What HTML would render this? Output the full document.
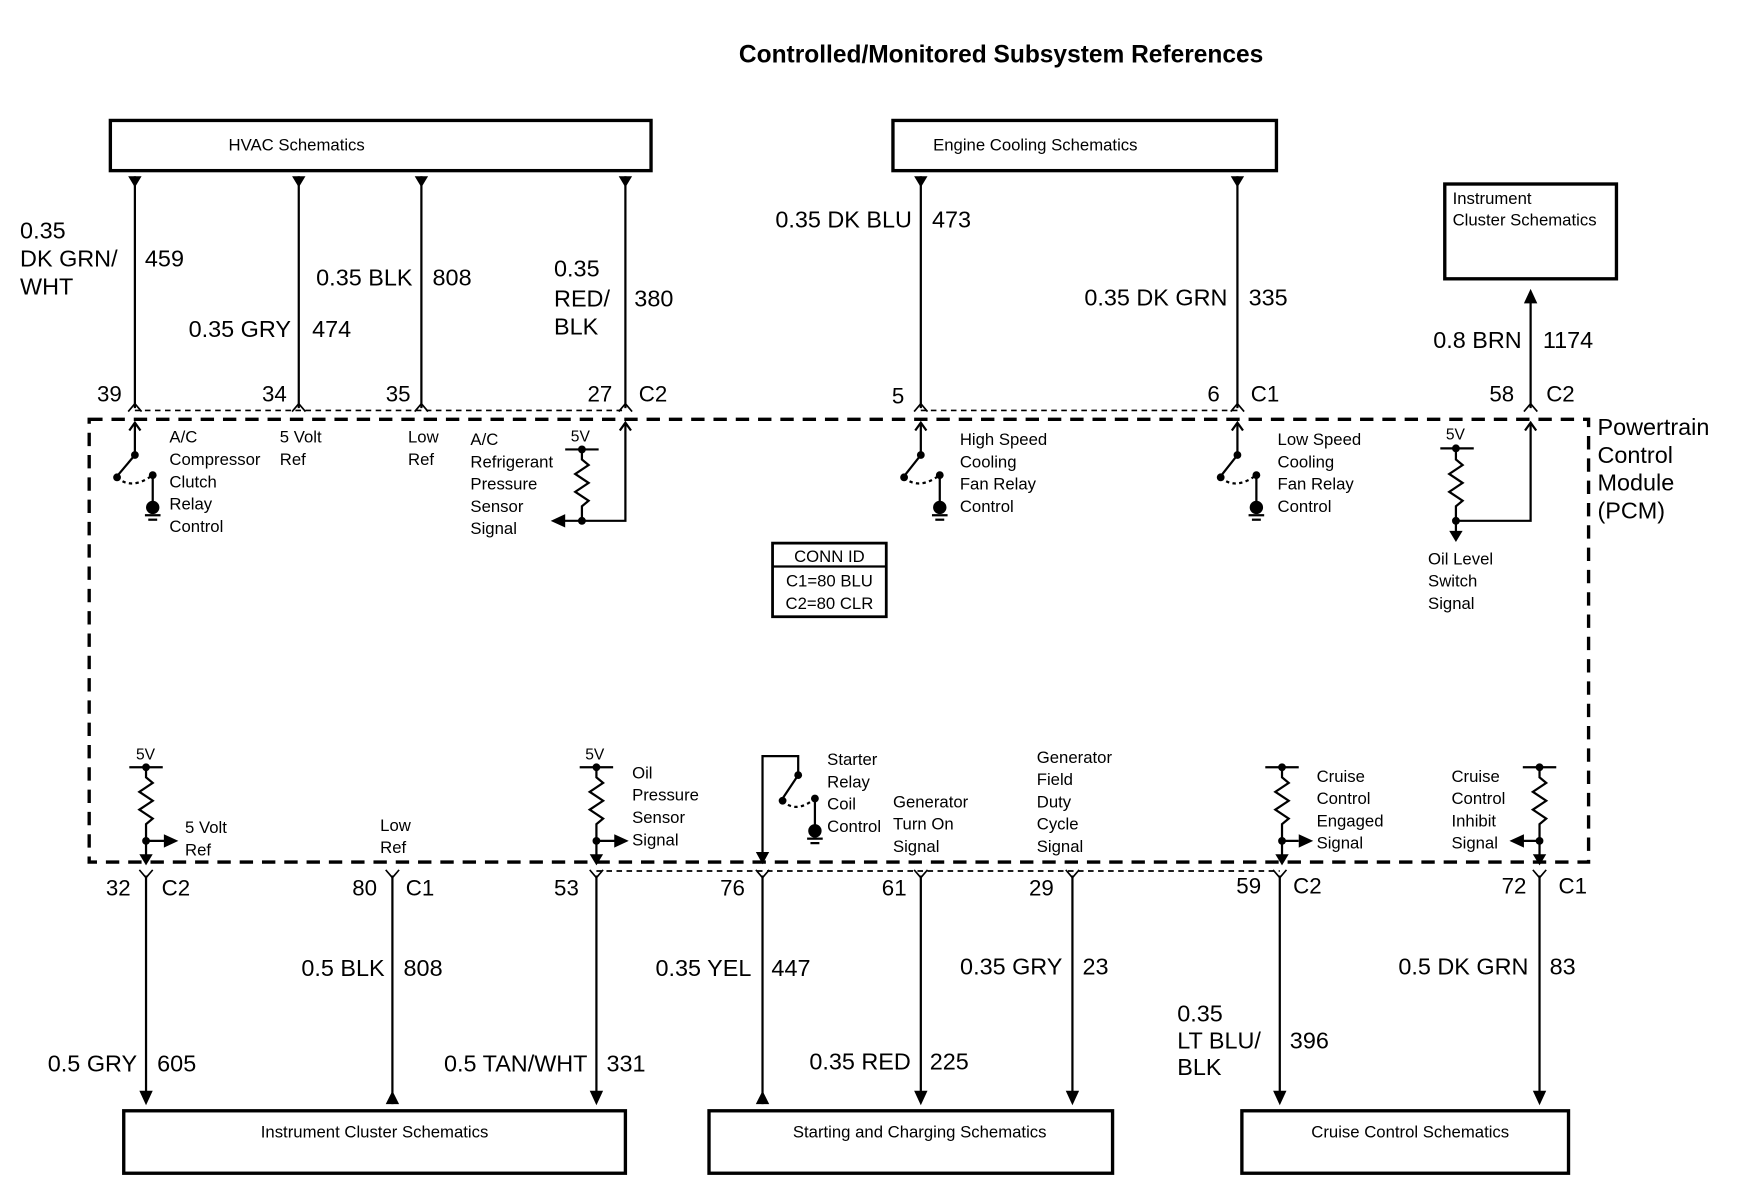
<!DOCTYPE html>
<html><head><meta charset="utf-8"><style>
html,body{margin:0;padding:0;background:#fff;}
svg{display:block;}
text{font-family:"Liberation Sans",sans-serif;fill:#000;}
.w{font-size:21px;}
.s{font-size:15px;}
.p{font-size:20px;}
</style></head><body>
<svg width="1748" height="1200" viewBox="0 0 1568 1076" preserveAspectRatio="none" xmlns="http://www.w3.org/2000/svg">
<g stroke="#000" fill="none">
<rect x="99" y="108" width="485" height="45" stroke-width="3"/>
<rect x="801" y="108" width="344" height="45" stroke-width="3"/>
<rect x="1296" y="165" width="154" height="85" stroke-width="3"/>
<rect x="111" y="996" width="450" height="56" stroke-width="3"/>
<rect x="636" y="996" width="362" height="56" stroke-width="3"/>
<rect x="1114" y="996" width="293" height="56" stroke-width="3"/>
<rect x="80" y="376" width="1345" height="397" stroke-width="3" stroke-dasharray="12,8"/>
<g stroke-width="2">
<line x1="121" y1="158" x2="121" y2="366"/>
<line x1="268" y1="158" x2="268" y2="366"/>
<line x1="378" y1="158" x2="378" y2="366"/>
<line x1="561" y1="158" x2="561" y2="366"/>
<line x1="826" y1="158" x2="826" y2="366"/>
<line x1="1110" y1="158" x2="1110" y2="366"/>
<line x1="1373" y1="268" x2="1373" y2="366"/>
<line x1="131" y1="785" x2="131" y2="982"/>
<line x1="352" y1="785" x2="352" y2="990"/>
<line x1="535" y1="785" x2="535" y2="982"/>
<line x1="684" y1="785" x2="684" y2="990"/>
<line x1="826" y1="785" x2="826" y2="982"/>
<line x1="962" y1="785" x2="962" y2="982"/>
<line x1="1148" y1="785" x2="1148" y2="982"/>
<line x1="1381" y1="785" x2="1381" y2="982"/>
</g>
<g stroke-width="1.5" stroke-dasharray="5,4">
<line x1="121" y1="368" x2="561" y2="368"/>
<line x1="826" y1="368" x2="1110" y2="368"/>
<line x1="535" y1="781" x2="1148" y2="781"/>
</g>
<g stroke-width="1.5">
<path d="M115,369 L121,362 L127,369"/><path d="M262,369 L268,362 L274,369"/><path d="M372,369 L378,362 L384,369"/><path d="M555,369 L561,362 L567,369"/>
<path d="M820,369 L826,362 L832,369"/><path d="M1104,369 L1110,362 L1116,369"/><path d="M1367,369 L1373,362 L1379,369"/>
<path d="M125,780 L131,787 L137,780"/><path d="M346,780 L352,787 L358,780"/><path d="M529,780 L535,787 L541,780"/><path d="M678,780 L684,787 L690,780"/>
<path d="M820,780 L826,787 L832,780"/><path d="M956,780 L962,787 L968,780"/><path d="M1142,780 L1148,787 L1154,780"/><path d="M1375,780 L1381,787 L1387,780"/>
</g>
</g>
<g fill="#000">
<path d="M115,158 L127,158 L121,168 Z"/><path d="M262,158 L274,158 L268,168 Z"/><path d="M372,158 L384,158 L378,168 Z"/><path d="M555,158 L567,158 L561,168 Z"/>
<path d="M820,158 L832,158 L826,168 Z"/><path d="M1104,158 L1116,158 L1110,168 Z"/>
<path d="M1367,272 L1379,272 L1373,259 Z"/>
<path d="M125,978 L137,978 L131,991 Z"/><path d="M529,978 L541,978 L535,991 Z"/><path d="M820,978 L832,978 L826,991 Z"/><path d="M956,978 L968,978 L962,991 Z"/><path d="M1142,978 L1154,978 L1148,991 Z"/><path d="M1375,978 L1387,978 L1381,991 Z"/>
<path d="M346,990 L358,990 L352,978 Z"/><path d="M678,990 L690,990 L684,978 Z"/>
</g>
<g stroke="#000" fill="none" stroke-width="2">
<path d="M121,380 L121,408 L105,427"/><path d="M116,386 L121,379 L126,386"/>
<path d="M105,428 Q118,440 137,426" stroke-dasharray="3,3"/><line x1="137" y1="426" x2="137" y2="452"/>
<line x1="130" y1="462" x2="144" y2="462"/><line x1="133" y1="466" x2="141" y2="466"/>
<path d="M826,380 L826,408 L811,427"/><path d="M821,386 L826,379 L831,386"/>
<path d="M811,428 Q824,440 843,426" stroke-dasharray="3,3"/><line x1="843" y1="426" x2="843" y2="452"/>
<line x1="836" y1="462" x2="850" y2="462"/><line x1="839" y1="466" x2="847" y2="466"/>
<path d="M1110,380 L1110,408 L1095,427"/><path d="M1105,386 L1110,379 L1115,386"/>
<path d="M1095,428 Q1108,440 1127,426" stroke-dasharray="3,3"/><line x1="1127" y1="426" x2="1127" y2="452"/>
<line x1="1120" y1="462" x2="1134" y2="462"/><line x1="1123" y1="466" x2="1131" y2="466"/>
<line x1="507" y1="403" x2="537" y2="403"/>
<path d="M522,403 L522,412 l6,5 l-12,8 l12,8 l-12,8 l12,8 l-6,5 L522,467"/>
<path d="M506,467 L561,467 L561,380"/><path d="M556,386 L561,379 L566,386"/>
<line x1="1292" y1="402" x2="1322" y2="402"/>
<path d="M1306,402 L1306,412 l6,5 l-12,8 l12,8 l-12,8 l12,8 l-6,5 L1306,467 L1373,467 L1373,380"/><path d="M1368,386 L1373,379 L1378,386"/>
<line x1="1306" y1="467" x2="1306" y2="478"/>
<line x1="116" y1="688" x2="146" y2="688"/>
<path d="M131,688 L131,697 l6,5 l-12,8 l12,8 l-12,8 l12,8 l-6,5 L131,770"/>
<line x1="131" y1="754" x2="148" y2="754"/>
<line x1="520" y1="688" x2="550" y2="688"/>
<path d="M535,688 L535,697 l6,5 l-12,8 l12,8 l-12,8 l12,8 l-6,5 L535,770"/>
<line x1="535" y1="754" x2="552" y2="754"/>
<path d="M684,770 L684,678 L716,678 L716,695 L702,716"/>
<path d="M702,718 Q714,730 731,716" stroke-dasharray="3,3"/><line x1="731" y1="716" x2="731" y2="742"/>
<line x1="724" y1="752" x2="738" y2="752"/><line x1="727" y1="756" x2="735" y2="756"/>
<line x1="1135" y1="688" x2="1165" y2="688"/>
<path d="M1150,688 L1150,697 l6,5 l-12,8 l12,8 l-12,8 l12,8 l-6,5 L1150,770"/>
<line x1="1150" y1="754" x2="1165" y2="754"/>
<line x1="1366" y1="688" x2="1396" y2="688"/>
<path d="M1381,688 L1381,697 l6,5 l-12,8 l12,8 l-12,8 l12,8 l-6,5 L1381,770"/>
<line x1="1365" y1="754" x2="1381" y2="754"/>
<rect x="693" y="487" width="102" height="66" stroke-width="2.5"/>
<line x1="693" y1="508" x2="795" y2="508" stroke-width="2"/>
</g>
<g fill="#000">
<circle cx="121" cy="408" r="3.5"/><circle cx="105" cy="428" r="3.5"/><circle cx="137" cy="426" r="3.5"/><circle cx="137" cy="455" r="6"/>
<circle cx="826" cy="408" r="3.5"/><circle cx="811" cy="428" r="3.5"/><circle cx="843" cy="426" r="3.5"/><circle cx="843" cy="455" r="6"/>
<circle cx="1110" cy="408" r="3.5"/><circle cx="1095" cy="428" r="3.5"/><circle cx="1127" cy="426" r="3.5"/><circle cx="1127" cy="455" r="6"/>
<circle cx="522" cy="403" r="3.5"/><circle cx="522" cy="467" r="3.5"/><path d="M494,467 L507,461 L507,473 Z"/>
<circle cx="1306" cy="402" r="3.5"/><circle cx="1306" cy="467" r="3.5"/><path d="M1300,476 L1312,476 L1306,486 Z"/>
<circle cx="131" cy="688" r="3.5"/><circle cx="131" cy="754" r="3.5"/><path d="M160,754 L147,748 L147,760 Z"/><path d="M125,766 L137,766 L131,776 Z"/>
<circle cx="535" cy="688" r="3.5"/><circle cx="535" cy="754" r="3.5"/><path d="M564,754 L551,748 L551,760 Z"/><path d="M529,766 L541,766 L535,776 Z"/>
<circle cx="716" cy="695" r="3.5"/><circle cx="702" cy="718" r="3.5"/><circle cx="731" cy="716" r="3.5"/><circle cx="731" cy="745" r="6"/><path d="M678,764 L690,764 L684,775 Z"/>
<circle cx="1150" cy="688" r="3.5"/><circle cx="1150" cy="754" r="3.5"/><path d="M1178,754 L1165,748 L1165,760 Z"/><path d="M1144,766 L1156,766 L1150,776 Z"/>
<circle cx="1381" cy="688" r="3.5"/><circle cx="1381" cy="754" r="3.5"/><path d="M1354,754 L1367,748 L1367,760 Z"/><path d="M1375,766 L1387,766 L1381,776 Z"/>
</g>
<text x="898" y="56" text-anchor="middle" font-size="22" font-weight="bold">Controlled/Monitored Subsystem References</text>
<g class="s">
<text x="205" y="135">HVAC Schematics</text>
<text x="837" y="135">Engine Cooling Schematics</text>
<text x="1303" y="183">Instrument</text><text x="1303" y="202">Cluster Schematics</text>
<text x="336" y="1020" text-anchor="middle">Instrument Cluster Schematics</text>
<text x="825" y="1020" text-anchor="middle">Starting and Charging Schematics</text>
<text x="1265" y="1020" text-anchor="middle">Cruise Control Schematics</text>
<text x="152" y="397">A/C</text><text x="152" y="417">Compressor</text><text x="152" y="437">Clutch</text><text x="152" y="457">Relay</text><text x="152" y="477">Control</text>
<text x="251" y="397">5 Volt</text><text x="251" y="417">Ref</text>
<text x="366" y="397">Low</text><text x="366" y="417">Ref</text>
<text x="422" y="399">A/C</text><text x="422" y="419">Refrigerant</text><text x="422" y="439">Pressure</text><text x="422" y="459">Sensor</text><text x="422" y="479">Signal</text>
<text x="512" y="396" font-size="14">5V</text>
<text x="861" y="399">High Speed</text><text x="861" y="419">Cooling</text><text x="861" y="439">Fan Relay</text><text x="861" y="459">Control</text>
<text x="1146" y="399">Low Speed</text><text x="1146" y="419">Cooling</text><text x="1146" y="439">Fan Relay</text><text x="1146" y="459">Control</text>
<text x="1297" y="394" font-size="14">5V</text>
<text x="1281" y="506">Oil Level</text><text x="1281" y="526">Switch</text><text x="1281" y="546">Signal</text>
<text x="744" y="504" text-anchor="middle">CONN ID</text><text x="744" y="526" text-anchor="middle">C1=80 BLU</text><text x="744" y="546" text-anchor="middle">C2=80 CLR</text>
<text x="122" y="681" font-size="14">5V</text>
<text x="166" y="747">5 Volt</text><text x="166" y="767">Ref</text>
<text x="341" y="745">Low</text><text x="341" y="765">Ref</text>
<text x="525" y="681" font-size="14">5V</text>
<text x="567" y="698">Oil</text><text x="567" y="718">Pressure</text><text x="567" y="738">Sensor</text><text x="567" y="758">Signal</text>
<text x="742" y="686">Starter</text><text x="742" y="706">Relay</text><text x="742" y="726">Coil</text><text x="742" y="746">Control</text>
<text x="801" y="724">Generator</text><text x="801" y="744">Turn On</text><text x="801" y="764">Signal</text>
<text x="930" y="684">Generator</text><text x="930" y="704">Field</text><text x="930" y="724">Duty</text><text x="930" y="744">Cycle</text><text x="930" y="764">Signal</text>
<text x="1181" y="701">Cruise</text><text x="1181" y="721">Control</text><text x="1181" y="741">Engaged</text><text x="1181" y="761">Signal</text>
<text x="1302" y="701">Cruise</text><text x="1302" y="721">Control</text><text x="1302" y="741">Inhibit</text><text x="1302" y="761">Signal</text>
</g>
<g font-size="21">
<text x="1433" y="390">Powertrain</text><text x="1433" y="415">Control</text><text x="1433" y="440">Module</text><text x="1433" y="465">(PCM)</text>
</g>
<g class="w">
<text x="18" y="214">0.35</text><text x="18" y="239">DK GRN/</text><text x="18" y="264">WHT</text><text x="130" y="239">459</text>
<text x="370" y="256" text-anchor="end">0.35 BLK</text><text x="388" y="256">808</text>
<text x="261" y="302" text-anchor="end">0.35 GRY</text><text x="280" y="302">474</text>
<text x="497" y="248">0.35</text><text x="497" y="275">RED/</text><text x="497" y="300">BLK</text><text x="569" y="275">380</text>
<text x="818" y="204" text-anchor="end">0.35 DK BLU</text><text x="836" y="204">473</text>
<text x="1101" y="274" text-anchor="end">0.35 DK GRN</text><text x="1120" y="274">335</text>
<text x="1365" y="312" text-anchor="end">0.8 BRN</text><text x="1384" y="312">1174</text>
<text x="345" y="875" text-anchor="end">0.5 BLK</text><text x="362" y="875">808</text>
<text x="123" y="961" text-anchor="end">0.5 GRY</text><text x="141" y="961">605</text>
<text x="527" y="961" text-anchor="end">0.5  TAN/WHT</text><text x="544" y="961">331</text>
<text x="674" y="875" text-anchor="end">0.35 YEL</text><text x="692" y="875">447</text>
<text x="817" y="959" text-anchor="end">0.35  RED</text><text x="834" y="959">225</text>
<text x="953" y="874" text-anchor="end">0.35 GRY</text><text x="971" y="874">23</text>
<text x="1056" y="916">0.35</text><text x="1056" y="940">LT BLU/</text><text x="1056" y="964">BLK</text><text x="1157" y="940">396</text>
<text x="1371" y="874" text-anchor="end">0.5  DK GRN</text><text x="1390" y="874">83</text>
</g>
<g class="p">
<text x="87" y="360">39</text><text x="235" y="360">34</text><text x="346" y="360">35</text><text x="527" y="360">27</text><text x="573" y="360">C2</text>
<text x="800" y="362">5</text><text x="1083" y="360">6</text><text x="1122" y="360">C1</text><text x="1336" y="360">58</text><text x="1387" y="360">C2</text>
<text x="95" y="803">32</text><text x="145" y="803">C2</text><text x="316" y="803">80</text><text x="364" y="803">C1</text><text x="497" y="803">53</text>
<text x="646" y="803">76</text><text x="791" y="803">61</text><text x="923" y="803">29</text><text x="1109" y="801">59</text><text x="1160" y="801">C2</text>
<text x="1347" y="801">72</text><text x="1398" y="801">C1</text>
</g>
</svg>
</body></html>
